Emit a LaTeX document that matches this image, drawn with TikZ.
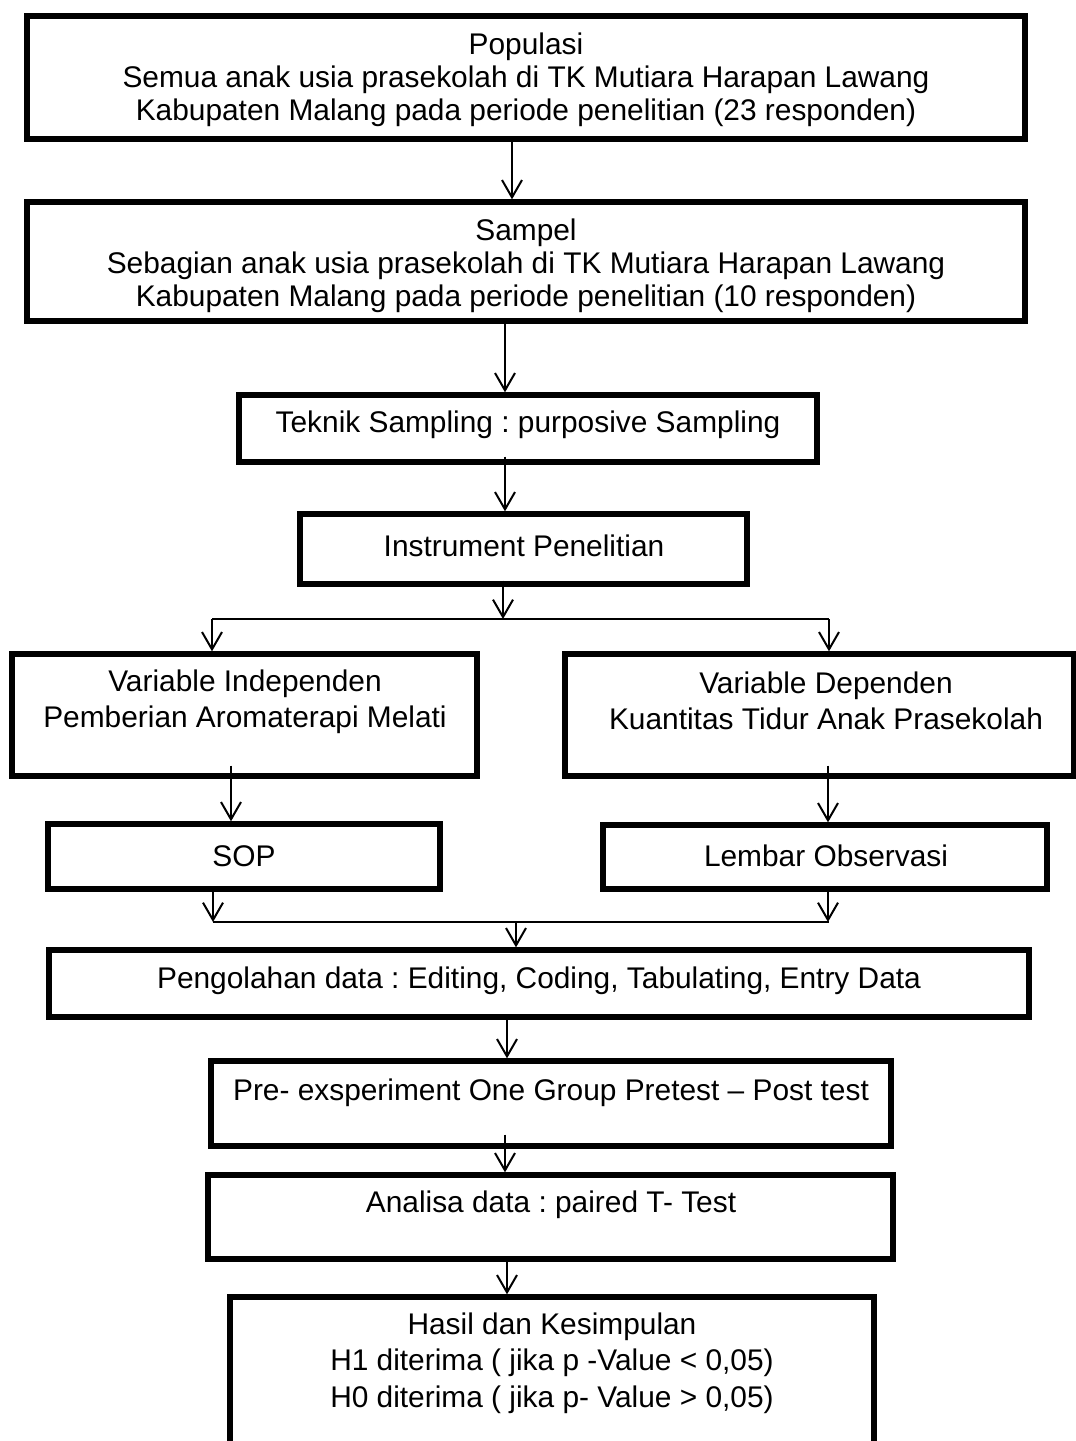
\documentclass[tikz,border=0pt]{standalone}
\usepackage{fontspec}
\setmainfont{Liberation Sans}
\usetikzlibrary{arrows.meta,fit,calc}
\frenchspacing

\begin{document}
\begin{tikzpicture}[x=0.375pt,y=-0.375pt,
        kotak/.style={draw, line width=2pt, inner sep=0pt},
        teks/.style={font=\fontsize{11.2}{12.4}\selectfont, align=center, inner sep=0pt},
        panah/.style={line width=0.75pt, -{Straight Barb[length=6.5pt,width=7.5pt]}},
        garis/.style={line width=0.75pt}]
        \useasboundingbox (0,0) rectangle (1076,1441);
        \fill[white] (0,0) rectangle (1076,1441);
        % kolom panah
        \coordinate (k1) at (512,0);
        \coordinate (k2) at (505,0);
        \coordinate (k3) at (503,0);
        \coordinate (k4) at (231,0);
        \coordinate (k5) at (828,0);
        \coordinate (k6) at (516,0);
        \coordinate (k7) at (507,0);
        \coordinate (k8) at (505,0);
        % populasi dan sampel
        \node[kotak, fit={(27,16) (1025,139)}] (pop) {};
        \node[teks] (pop-t) at (526,80) {Populasi\\ Semua anak usia prasekolah di TK Mutiara Harapan Lawang\\ Kabupaten Malang pada periode penelitian (23 responden)};
        \node[kotak, fit={(27,202) (1025,321)}] (smp) {};
        \node[teks] (smp-t) at (526,266) {Sampel\\ Sebagian anak usia prasekolah di TK Mutiara Harapan Lawang\\ Kabupaten Malang pada periode penelitian (10 responden)};
        \node[kotak, fit={(239,395) (817,462)}] (tek) {};
        \node[teks] (tek-t) at (528,425) {Teknik Sampling : purposive Sampling};
        \node[kotak, fit={(300,514) (747,584)}] (ins) {};
        \node[teks] (ins-t) at (524,546) {Instrument Penelitian};
        % variabel
        \node[kotak, fit={(12,654) (477,776)}] (varI) {};
        \node[teks, font=\fontsize{11.2}{13.5}\selectfont] (varI-t) at (245,702) {Variable Independen\\ Pemberian Aromaterapi Melati};
        \node[kotak, fit={(565,654) (1074,776)}] (varD) {};
        \node[teks, font=\fontsize{11.2}{13.5}\selectfont] (varD-t) at (826,701) {Variable Dependen\\ Kuantitas Tidur Anak Prasekolah};
        \node[kotak, fit={(48,824) (440,889)}] (sop) {};
        \node[teks] (sop-t) at (244,856) {SOP};
        \node[kotak, fit={(603,825) (1047,889)}] (lem) {};
        \node[teks] (lem-t) at (826,856) {Lembar Observasi};
        % pengolahan dan analisa
        \node[kotak, fit={(49,950) (1029,1017)}] (peng) {};
        \node[teks] (peng-t) at (539,981) {Pengolahan data : Editing, Coding, Tabulating, Entry Data};
        \node[kotak, fit={(211,1061) (891,1146)}] (pre) {};
        \node[teks] (pre-t) at (551,1093) {Pre- exsperiment One Group Pretest -- Post test};
        \node[kotak, fit={(208,1175) (893,1259)}] (ana) {};
        \node[teks] (ana-t) at (551,1205) {Analisa data : paired T- Test};
        \node[kotak, fit={(230,1297) (874,1480)}] (has) {};
        \node[teks, font=\fontsize{11.2}{13.7}\selectfont] (has-t) at (552,1363) {Hasil dan Kesimpulan\\ H1 diterima ( jika p -Value < 0,05)\\ H0 diterima ( jika p- Value > 0,05)};
        % panah
        \draw[panah] (pop.south -| k1) -- (smp.north -| k1);
        \draw[panah] (smp.south -| k2) -- (tek.north -| k2);
        \draw[panah] ($(tek.south -| k2)+(0,-8)$) -- (ins.north -| k2);
        \coordinate (cabang-k) at (212,619);
        \coordinate (cabang-n) at (829,619);
        \draw[garis] (cabang-k) -- (cabang-n);
        \draw[panah] ($(ins.south -| k3)+(0,-6)$) -- (cabang-k -| k3);
        \draw[panah] (cabang-k) -- (varI.north -| cabang-k);
        \draw[panah] (cabang-n) -- (varD.north -| cabang-n);
        \draw[panah] ($(varI.south -| k4)+(0,-13)$) -- (sop.north -| k4);
        \draw[panah] ($(varD.south -| k5)+(0,-13)$) -- (lem.north -| k5);
        \coordinate (gabung-k) at (213,922);
        \coordinate (gabung-n) at (829,922);
        \draw[garis] (gabung-k) -- (gabung-n);
        \draw[panah] (sop.south -| gabung-k) -- (gabung-k);
        \draw[panah] (lem.south -| k5) -- (gabung-n -| k5);
        \draw[panah] (gabung-k -| k6) -- (peng.north -| k6);
        \draw[panah] ($(peng.south -| k7)+(0,-5)$) -- (pre.north -| k7);
        \draw[panah] ($(pre.south -| k8)+(0,-14)$) -- (ana.north -| k8);
        \draw[panah] (ana.south -| k7) -- (has.north -| k7);
    \end{tikzpicture}
\end{document}
